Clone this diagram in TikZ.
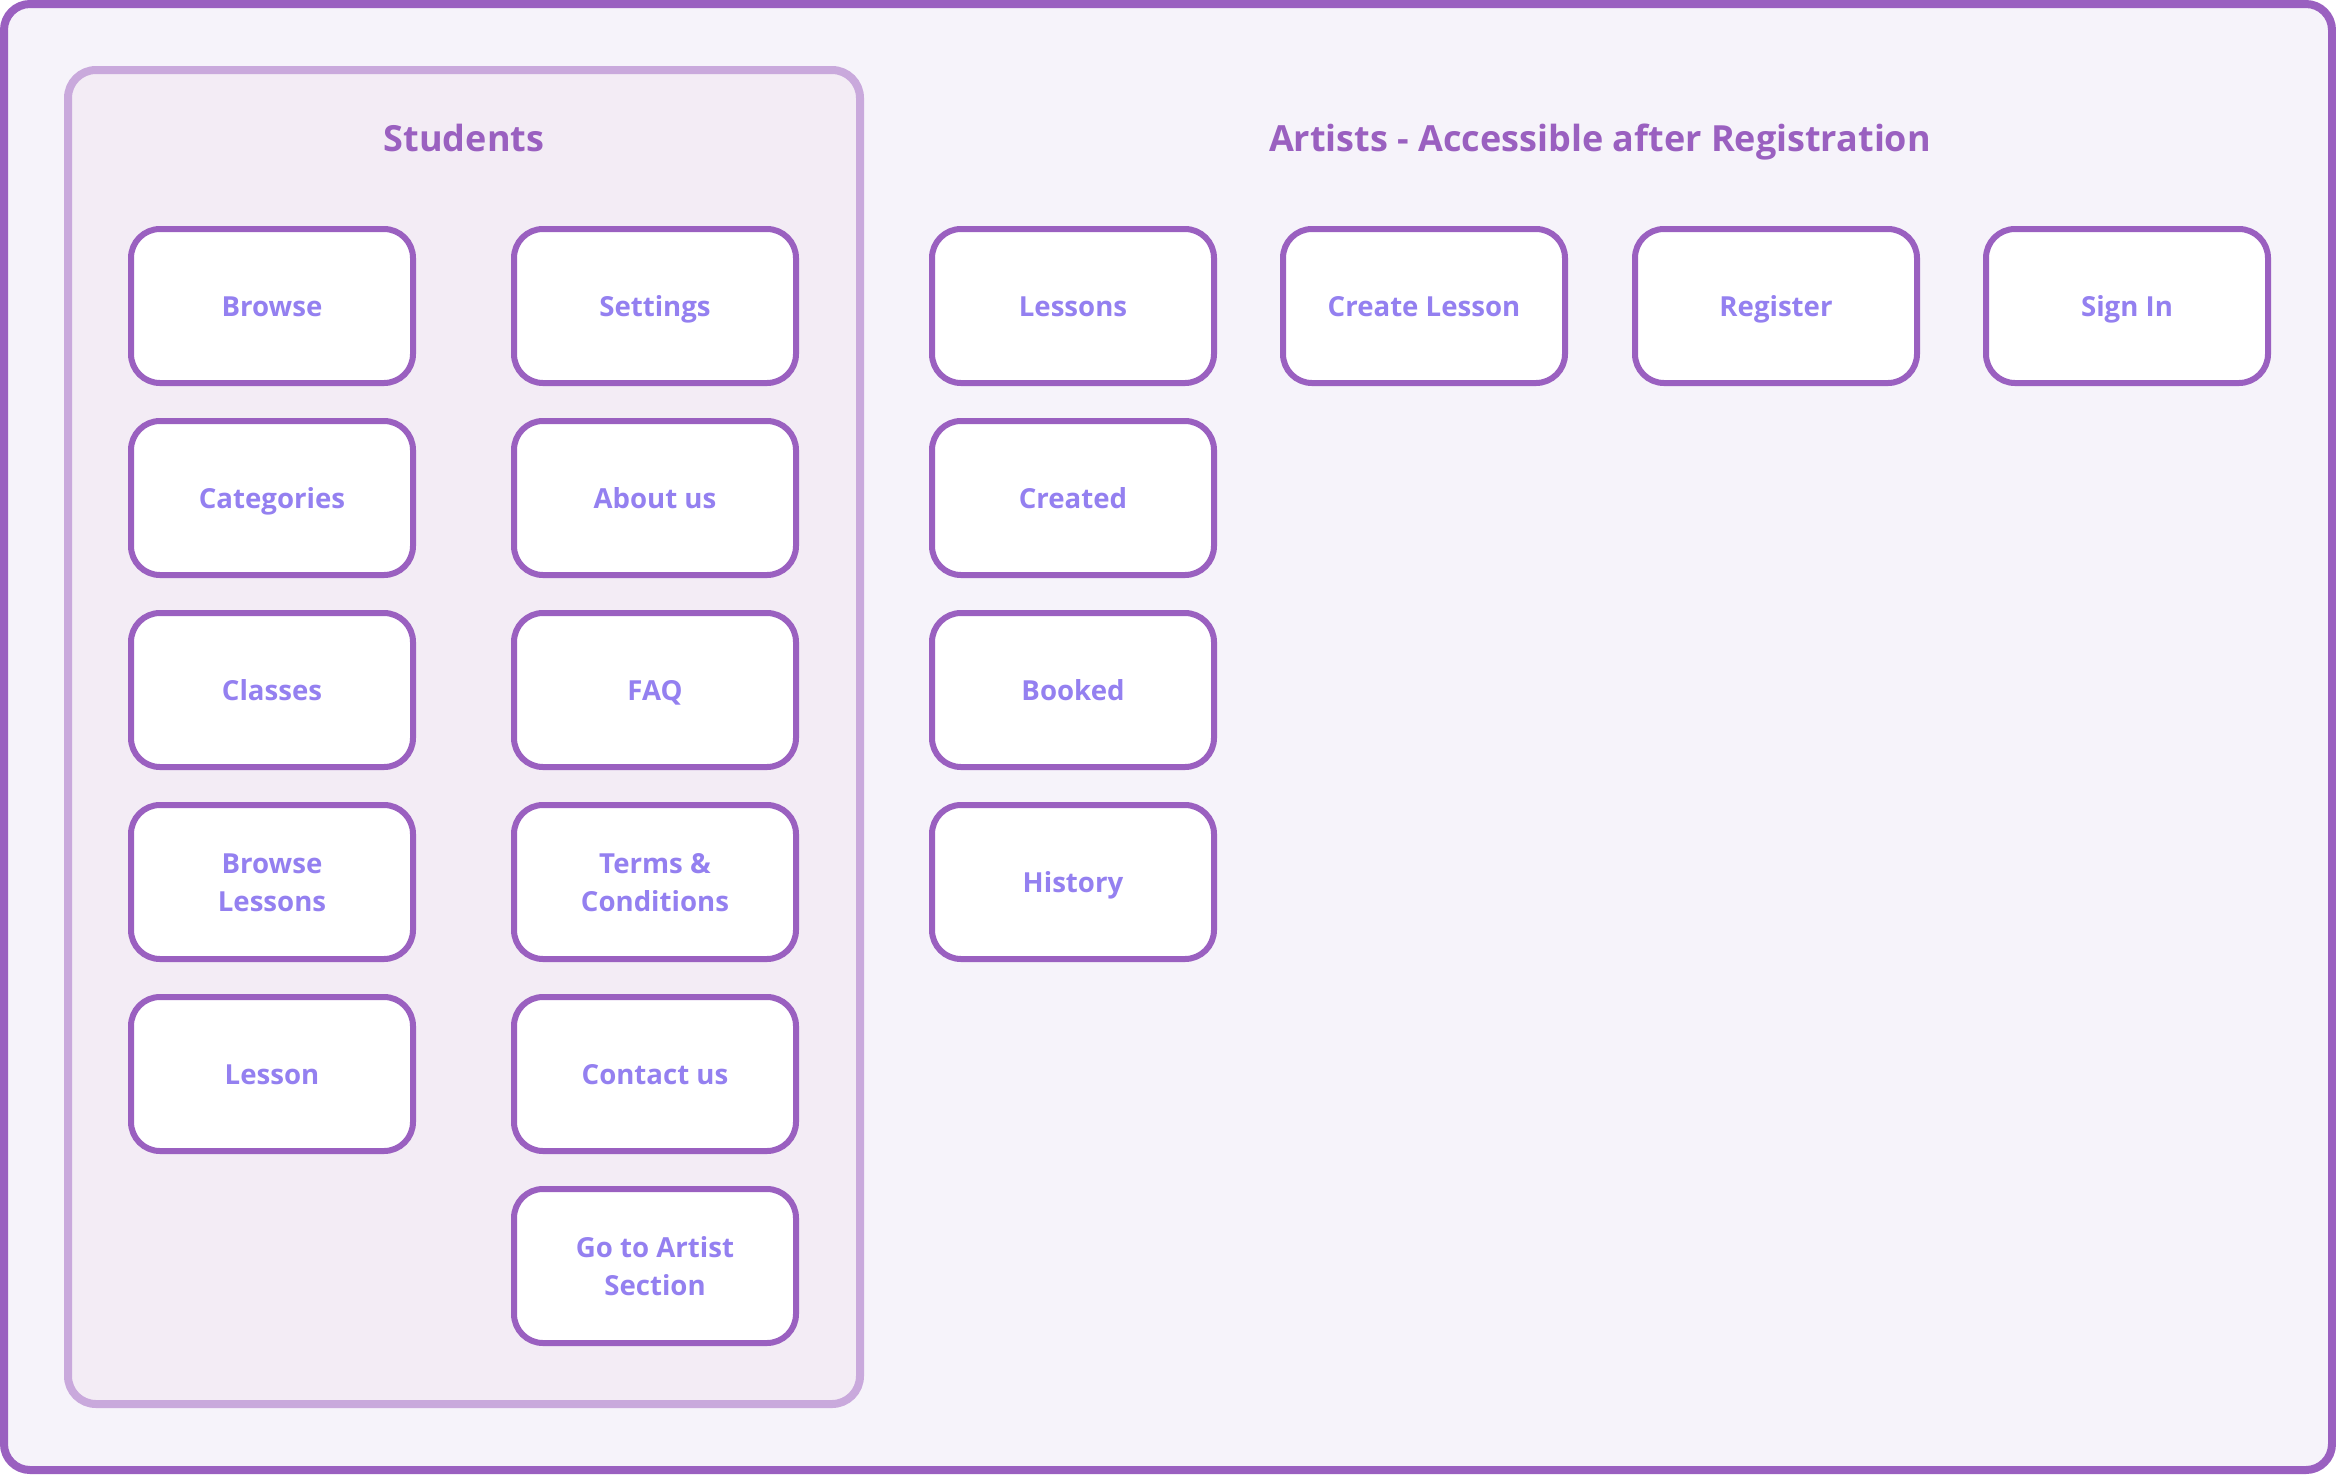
\documentclass[tikz,border=0pt]{standalone}
\usepackage{fontspec}
\setmainfont{Open Sans}
\definecolor{outerfill}{HTML}{F6F3FA}
\definecolor{outerline}{HTML}{9A60C0}
\definecolor{contfill}{HTML}{F3ECF5}
\definecolor{contline}{HTML}{C9A9DC}
\definecolor{boxline}{HTML}{9A60C0}
\definecolor{boxtext}{HTML}{9480F0}
\definecolor{titletext}{HTML}{9A60C0}
\newcommand{\plbl}[1]{\raisebox{-1.6pt}[\height][\depth]{\begin{tabular}{@{}c@{}}#1\end{tabular}}}
\begin{document}
\begin{tikzpicture}[x=0.5pt,y=-0.5pt,
  pagebox/.style={draw=boxline, fill=white, line width=3pt, rounded corners=14.5pt,
    minimum width=141pt, minimum height=77pt, inner sep=0pt, align=center,
    text=boxtext, font=\fontsize{13.8pt}{19pt}\selectfont\bfseries},
  titletxt/.style={text=titletext, font=\fontsize{18pt}{22pt}\selectfont\bfseries, inner sep=0pt}]
\useasboundingbox (0,0) rectangle (2336,1474);
\draw[draw=outerline, fill=outerfill, line width=4pt, rounded corners=13pt] (4,4) rectangle (2332,1470);
\node[draw=contline, fill=contfill, line width=4pt, rounded corners=14pt,
  minimum width=396pt, minimum height=667pt, inner sep=0pt] (students) at (464,737) {};
\node[titletxt, anchor=base] (studtitle) at (464,151.5) {Students};
\node[titletxt, anchor=base] (arttitle) at (1600,151.5) {Artists - Accessible after Registration};
% Students column 1
\node[pagebox] (browse) at (272,306) {\plbl{Browse}};
\node[pagebox] (categories) at (272,498) {\plbl{Categories}};
\node[pagebox] (classes) at (272,690) {\plbl{Classes}};
\node[pagebox] (browselessons) at (272,882) {\plbl{Browse\\Lessons}};
\node[pagebox] (lesson) at (272,1074) {\plbl{Lesson}};
% Students column 2
\node[pagebox] (settings) at (655,306) {\plbl{Settings}};
\node[pagebox] (about) at (655,498) {\plbl{About us}};
\node[pagebox] (faq) at (655,690) {\plbl{FAQ}};
\node[pagebox] (terms) at (655,882) {\plbl{Terms \&\\Conditions}};
\node[pagebox] (contact) at (655,1074) {\plbl{Contact us}};
\node[pagebox] (goartist) at (655,1266) {\plbl{Go to Artist\\Section}};
% Artists
\node[pagebox] (lessons) at (1073,306) {\plbl{Lessons}};
\node[pagebox] (create) at (1424,306) {\plbl{Create Lesson}};
\node[pagebox] (register) at (1776,306) {\plbl{Register}};
\node[pagebox] (signin) at (2127,306) {\plbl{Sign In}};
\node[pagebox] (created) at (1073,498) {\plbl{Created}};
\node[pagebox] (booked) at (1073,690) {\plbl{Booked}};
\node[pagebox] (history) at (1073,882) {\plbl{History}};
\end{tikzpicture}
\end{document}
